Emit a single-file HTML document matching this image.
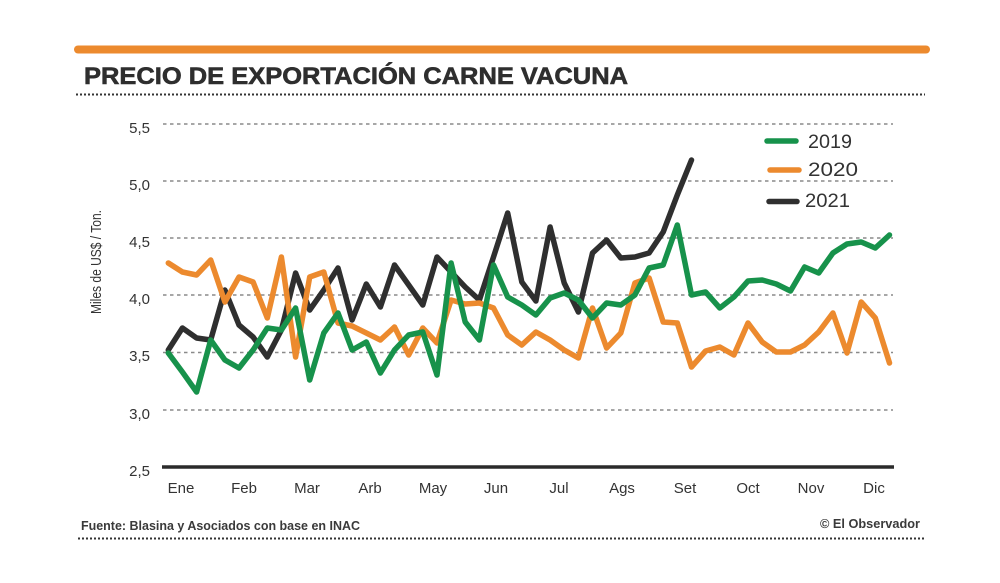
<!DOCTYPE html>
<html>
<head>
<meta charset="utf-8">
<style>
html,body{margin:0;padding:0;background:#fff;}
svg{display:block;}
text{font-family:"Liberation Sans",sans-serif;fill:#333;}
</style>
</head>
<body>
<svg width="1000" height="583" viewBox="0 0 1000 583" xmlns="http://www.w3.org/2000/svg">
<rect width="1000" height="583" fill="#fff"/>
<!-- top orange bar -->
<line x1="78" y1="49.5" x2="926" y2="49.5" stroke="#ec8a2e" stroke-width="8" stroke-linecap="round"/>
<!-- title -->
<text x="84" y="84" font-size="24" font-weight="bold" textLength="544" lengthAdjust="spacingAndGlyphs" style="fill:#2e2e2e;stroke:#2e2e2e;stroke-width:0.6">PRECIO DE EXPORTACIÓN CARNE VACUNA</text>
<line x1="76" y1="94.5" x2="925" y2="94.5" stroke="#333" stroke-width="2" stroke-dasharray="2,2"/>

<!-- grid -->
<g stroke="#8a8a8a" stroke-width="1.5" stroke-dasharray="3.5,3.5">
<line x1="163" y1="124" x2="893" y2="124"/>
<line x1="163" y1="181" x2="893" y2="181"/>
<line x1="163" y1="238" x2="893" y2="238"/>
<line x1="163" y1="295" x2="893" y2="295"/>
<line x1="163" y1="352.5" x2="893" y2="352.5"/>
<line x1="163" y1="410" x2="893" y2="410"/>
</g>
<line x1="162" y1="467" x2="894" y2="467" stroke="#2b2b2b" stroke-width="3.5"/>

<!-- y labels -->
<g font-size="15" text-anchor="end">
<text x="150" y="133">5,5</text>
<text x="150" y="190">5,0</text>
<text x="150" y="247">4,5</text>
<text x="150" y="304">4,0</text>
<text x="150" y="361">3,5</text>
<text x="150" y="419">3,0</text>
<text x="150" y="476">2,5</text>
</g>
<text transform="translate(101,262) rotate(-90)" font-size="15" text-anchor="middle" textLength="104" lengthAdjust="spacingAndGlyphs">Miles de US$ / Ton.</text>

<!-- x labels -->
<g font-size="15" text-anchor="middle">
<text x="181" y="493">Ene</text>
<text x="244" y="493">Feb</text>
<text x="307" y="493">Mar</text>
<text x="370" y="493">Arb</text>
<text x="433" y="493">May</text>
<text x="496" y="493">Jun</text>
<text x="559" y="493">Jul</text>
<text x="622" y="493">Ags</text>
<text x="685" y="493">Set</text>
<text x="748" y="493">Oct</text>
<text x="811" y="493">Nov</text>
<text x="874" y="493">Dic</text>
</g>

<!-- series -->
<g fill="none" stroke-width="5.5" stroke-linejoin="round" stroke-linecap="round">
<polyline stroke="#2f2f2f" points="168.3,350 182.4,328 196.6,338 210.7,340 224.9,290 239.0,325 253.1,337 267.3,357 281.4,330 295.6,273 309.7,310 323.8,290 338.0,268 352.1,320 366.3,284 380.4,307 394.5,265 408.7,285 422.8,305 437.0,257 451.1,272 465.2,287 479.4,300 493.5,257 507.7,213 521.8,282 535.9,301 550.1,227 564.2,283 578.4,312 592.5,253 606.6,240 620.8,258 634.9,257 649.1,253 663.2,232 677.3,195 691.5,160"/>
<polyline stroke="#ec8a2e" points="168.3,263 182.4,272 196.6,275 210.7,260 224.9,302 239.0,277 253.1,282 267.3,318 281.4,257 295.6,357 309.7,277 323.8,272 338.0,323 352.1,326 366.3,333 380.4,340 394.5,327 408.7,355 422.8,328 437.0,343 451.1,300 465.2,304 479.4,303 493.5,308 507.7,335 521.8,345 535.9,332 550.1,340 564.2,350 578.4,358 592.5,308 606.6,348 620.8,333 634.9,283 649.1,278 663.2,322 677.3,323 691.5,367 705.6,351 719.8,347 733.9,355 748.0,323 762.2,342 776.3,352 790.5,352 804.6,345 818.7,332 832.9,313 847.0,353 861.2,302 875.3,318 889.5,363"/>
<polyline stroke="#17924b" points="168.3,353 182.4,372 196.6,392 210.7,340 224.9,360 239.0,368 253.1,350 267.3,328 281.4,330 295.6,308 309.7,380 323.8,333 338.0,313 352.1,350 366.3,342 380.4,373 394.5,350 408.7,335 422.8,332 437.0,375 451.1,263 465.2,322 479.4,340 493.5,265 507.7,297 521.8,305 535.9,315 550.1,298 564.2,293 578.4,300 592.5,318 606.6,303 620.8,305 634.9,295 649.1,268 663.2,265 677.3,225 691.5,295 705.6,292 719.8,308 733.9,297 748.0,281 762.2,280 776.3,284 790.5,291 804.6,267 818.7,273 832.9,253 847.0,244 861.2,242 875.3,248 889.5,235"/>
</g>

<!-- legend -->
<g stroke-width="5.5" stroke-linecap="round">
<line x1="767" y1="141" x2="796" y2="141" stroke="#17924b"/>
<line x1="770" y1="170" x2="799" y2="170" stroke="#ec8a2e"/>
<line x1="769" y1="201.5" x2="797" y2="201.5" stroke="#2f2f2f"/>
</g>
<g font-size="19">
<text x="808" y="148" textLength="44" lengthAdjust="spacingAndGlyphs">2019</text>
<text x="808" y="176" textLength="50" lengthAdjust="spacingAndGlyphs">2020</text>
<text x="805" y="207" textLength="45" lengthAdjust="spacingAndGlyphs">2021</text>
</g>

<!-- footer -->
<text x="81" y="530" font-size="13" font-weight="bold" textLength="279" lengthAdjust="spacingAndGlyphs" style="fill:#3a3a3a">Fuente: Blasina y Asociados con base en INAC</text>
<text x="920" y="528" font-size="13" font-weight="bold" text-anchor="end" textLength="100" lengthAdjust="spacingAndGlyphs" style="fill:#3a3a3a">© El Observador</text>
<line x1="78" y1="538.5" x2="925" y2="538.5" stroke="#333" stroke-width="2" stroke-dasharray="2,2"/>
</svg>
</body>
</html>
